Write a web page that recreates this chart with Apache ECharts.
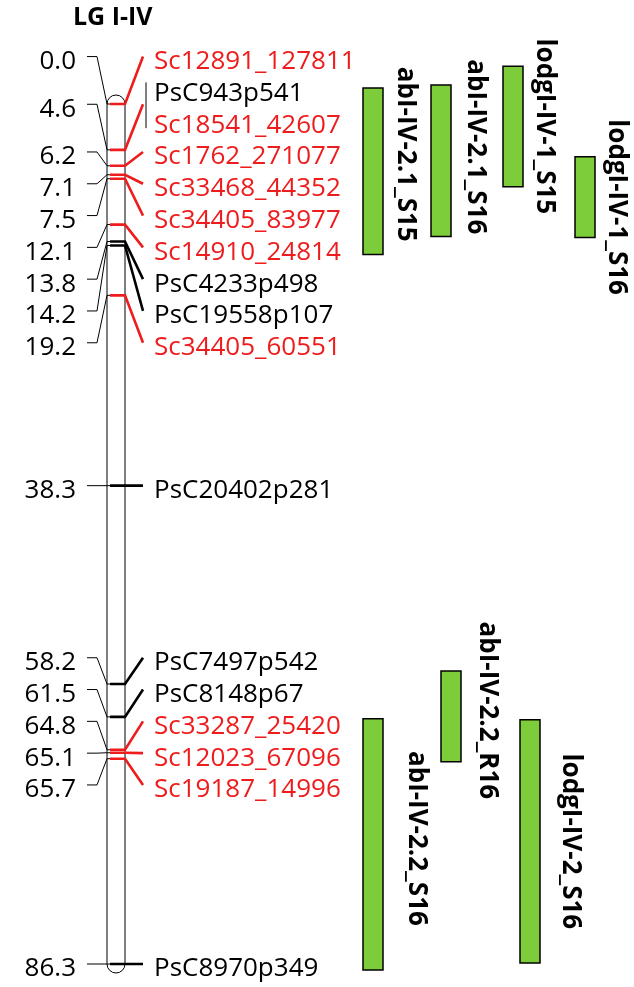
<!DOCTYPE html>
<html><head><meta charset="utf-8">
<script src="https://cdn.jsdelivr.net/npm/echarts@6/dist/echarts.min.js"></script>
<style>html,body{margin:0;padding:0;background:#fff}#c{width:634px;height:987px}</style>
</head><body><div id="c"></div>
<script>
// ---------------- data ----------------
const groupTitle = 'LG I-IV';
const chromStart = 0.0;
const chromEnd = 86.3;
const markerNames = ['Sc12891_127811','PsC943p541','Sc18541_42607','Sc1762_271077','Sc33468_44352','Sc34405_83977','Sc14910_24814','PsC4233p498','PsC19558p107','Sc34405_60551','PsC20402p281','PsC7497p542','PsC8148p67','Sc33287_25420','Sc12023_67096','Sc19187_14996','PsC8970p349'];
const markerPos = [0.0,4.6,4.6,6.2,7.1,7.5,12.1,13.8,14.2,19.2,38.3,58.2,61.5,64.8,65.1,65.7,86.3];
const markerType = ['Sc','PsC','Sc','Sc','Sc','Sc','Sc','PsC','PsC','Sc','PsC','PsC','PsC','Sc','Sc','Sc','PsC'];
const qtlNames = ['abI-IV-2.1_S15','abI-IV-2.1_S16','lodgI-IV-1_S15','lodgI-IV-1_S16','abI-IV-2.2_R16','abI-IV-2.2_S16','lodgI-IV-2_S16'];
const qtlStart = [-1.6,-1.9,-3.8,5.3,56.9,61.7,61.8];
const qtlEnd = [15.1,13.3,8.3,13.4,66.0,86.9,86.2];

// ---------------- layout / style ----------------
const RED = '#ee1c1c', BLACK = '#000', GREEN = '#7dcd3b';
const FONT = '"Open Sans", "Liberation Sans", sans-serif';
const G_TOP = 104, G_BOTTOM = 23, H = 987;
const pxPerCM = (H - G_TOP - G_BOTTOM) / (chromEnd - chromStart);
const SPACING = 31.8 / pxPerCM;           // label spacing in cM units
const qtlColumn = [363, 431, 503, 575, 441, 363, 520]; // bar left edges (layout)
const qtlLabelGap = [22, 24, 21, 21, 26, 33, 30];       // label distance from bar (px)
const qtlLabelShift = [-17, -14, 0, 10, -6, -6, 0];     // label vertical shift (px)
const BAR_W = 20;

function spread(desired, s) {
  const blocks = [];
  desired.forEach((d, i) => {
    blocks.push({ a: i, b: i });
    while (blocks.length > 1) {
      const cur = blocks[blocks.length - 1], prev = blocks[blocks.length - 2];
      const top = blk => (desired[blk.a] + desired[blk.b]) / 2 - (blk.b - blk.a) * s / 2;
      if (top(prev) + (prev.b - prev.a + 1) * s > top(cur)) {
        prev.b = cur.b; blocks.pop();
      } else break;
    }
  });
  const out = [];
  blocks.forEach(blk => {
    const t = (desired[blk.a] + desired[blk.b]) / 2 - (blk.b - blk.a) * s / 2;
    for (let k = blk.a; k <= blk.b; k++) out.push(t + (k - blk.a) * s);
  });
  return out;
}
const labelPos = spread(markerPos, SPACING);

const groups = [];
markerPos.forEach((p, i) => {
  const g = groups.length && groups[groups.length - 1].pos === p ? groups[groups.length - 1] : null;
  if (g) g.items.push(i); else groups.push({ pos: p, items: [i] });
});
const groupData = groups.map((g, gi) => [gi, g.pos]);

const colorOf = i => markerType[i] === 'Sc' ? RED : BLACK;

function renderGroup(params, api) {
  const g = groups[api.value(0)];
  const ty = api.coord([0, g.pos])[1];
  const ys = g.items.map(i => api.coord([0, labelPos[i]])[1]);
  const ey = ys.reduce((a, b) => a + b, 0) / ys.length;
  const col = colorOf(g.items[g.items.length - 1]);
  const ch = [];
  ch.push({ type: 'polyline', shape: { points: [[87, ey], [97, ey], [107, ty], [110, ty]] },
    style: { stroke: BLACK, lineWidth: 1, fill: null } });
  ch.push({ type: 'text', x: 76, y: ey + 5, style: { text: g.pos.toFixed(1), fill: BLACK, font: '26px ' + FONT,
    align: 'right', verticalAlign: 'middle', textAlign: 'right', textVerticalAlign: 'middle' } });
  ch.push({ type: 'polyline', shape: { points: [[110, ty], [125, ty], [143, ey]] },
    style: { stroke: col, lineWidth: 2.6, fill: null } });
  if (ys.length > 1) {
    const h = (ys[ys.length - 1] - ys[0]) / 2 + 7;
    ch.push({ type: 'line', shape: { x1: 146, y1: ey - h + 1, x2: 146, y2: ey + h + 1 },
      style: { stroke: BLACK, lineWidth: 1 } });
  }
  g.items.forEach((i, k) => {
    ch.push({ type: 'text', x: 154, y: ys[k] + 5, style: { text: markerNames[i], fill: colorOf(i), font: '26px ' + FONT,
      align: 'left', verticalAlign: 'middle', textAlign: 'left', textVerticalAlign: 'middle' } });
  });
  return { type: 'group', children: ch };
}

function renderChrom(params, api) {
  const y0 = api.coord([0, api.value(0)])[1] - 9;
  const y1 = api.coord([0, api.value(1)])[1] + 9;
  const x0 = api.coord([107, 0])[0];
  return { type: 'rect', shape: { x: x0, y: y0, width: 18, height: y1 - y0, r: 9 },
    style: { fill: '#fff', stroke: BLACK, lineWidth: 1 } };
}

function renderQtl(params, api) {
  const i = api.value(0);
  const xl = api.coord([qtlColumn[i], 0])[0];
  const y0 = api.coord([0, api.value(1)])[1];
  const y1 = api.coord([0, api.value(2)])[1];
  return { type: 'group', children: [
    { type: 'rect', shape: { x: xl, y: y0, width: BAR_W, height: y1 - y0 },
      style: { fill: GREEN, stroke: BLACK, lineWidth: 1.5 } },
    { type: 'text', x: xl + BAR_W + qtlLabelGap[i], y: (y0 + y1) / 2 + qtlLabelShift[i], rotation: -Math.PI / 2,
      style: { text: qtlNames[i], fill: BLACK, font: 'bold 26px ' + FONT,
        align: 'center', verticalAlign: 'middle', textAlign: 'center', textVerticalAlign: 'middle' } }
  ] };
}

const chart = echarts.init(document.getElementById('c'), null, { renderer: 'canvas' });
chart.setOption({
  animation: false,
  backgroundColor: '#fff',
  title: { text: groupTitle, left: 68, top: 0,
    textStyle: { fontSize: 25, fontWeight: 'bold', color: BLACK, fontFamily: FONT } },
  grid: { left: 0, right: 0, top: G_TOP, bottom: G_BOTTOM },
  xAxis: { type: 'value', min: 0, max: 634, show: false },
  yAxis: { type: 'value', min: chromStart, max: chromEnd, inverse: true, show: false },
  series: [
    { type: 'custom', clip: false, renderItem: renderQtl, z: 1,
      data: qtlNames.map((n, i) => [i, qtlStart[i], qtlEnd[i]]) },
    { type: 'custom', clip: false, renderItem: renderChrom, z: 2, data: [[chromStart, chromEnd]] },
    { type: 'custom', clip: false, renderItem: renderGroup, z: 3, data: groupData }
  ]
});
</script></body></html>
